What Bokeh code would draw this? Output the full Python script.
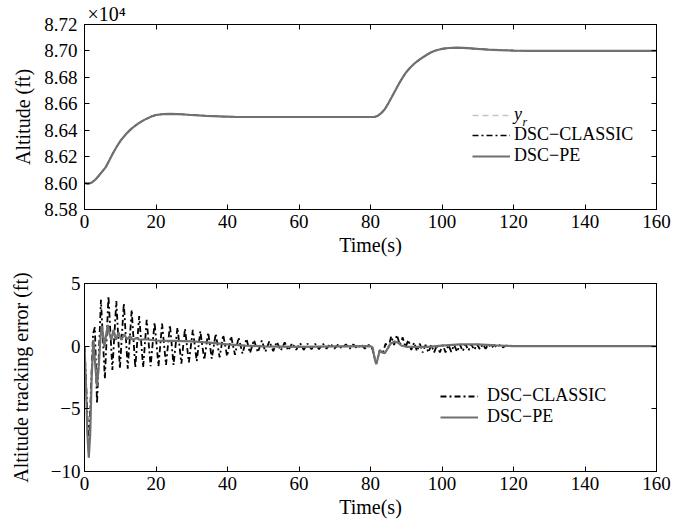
import numpy as np
from bokeh.plotting import figure
from bokeh.models import (Range1d, FixedTicker, LinearAxis, Legend, LegendItem,
                          Label, CustomJSTickFormatter)
from bokeh.layouts import column
from bokeh.embed import file_html
from bokeh.resources import INLINE

FONT = "Liberation Serif"

# ---------------- data ----------------
x_ticks = [0, 20, 40, 60, 80, 100, 120, 140, 160]
alt_ticks = [85800, 86000, 86200, 86400, 86600, 86800, 87000, 87200]
err_ticks = [-10, -5, 0, 5]
err_tick_labels = ["\u221210", "\u22125", "0", "5"]

# altitude (ft)
alt_t = [0, 1, 2, 3, 4, 5, 6, 7, 8, 9, 10, 11, 12, 13, 14, 15, 16, 17, 18, 19, 20,
         22, 24, 26, 28, 30, 34, 38, 42, 46, 50, 60, 70, 80, 81, 82, 83, 84, 85, 86,
         87, 88, 89, 90, 91, 92, 93, 94, 95, 96, 97, 98, 99, 100, 102, 104, 106,
         108, 110, 113, 116, 120, 125, 130, 140, 150, 160]
alt_yr = [86000, 85997, 86004, 86025, 86055, 86088, 86122, 86175, 86228, 86274,
          86316, 86350, 86381, 86407, 86430, 86450, 86467, 86482, 86495, 86506,
          86514, 86521, 86523, 86522, 86519, 86515, 86509, 86504, 86501, 86500,
          86500, 86500, 86500, 86500, 86500, 86508, 86528, 86558, 86603, 86653,
          86703, 86753, 86798, 86838, 86870, 86897, 86919, 86939, 86957, 86974,
          86989, 87000, 87008, 87015, 87022, 87025, 87023, 87019, 87015, 87010,
          87006, 87003, 87001, 87000, 87000, 87000, 87000]
alt_classic = [86000, 85995, 86003, 86025, 86056, 86089, 86123, 86176, 86229, 86275,
               86317, 86351, 86382, 86408, 86430, 86450, 86467, 86482, 86495, 86507,
               86515, 86522, 86524, 86522, 86519, 86515, 86509, 86504, 86501, 86500,
               86500, 86500, 86500, 86500, 86499, 86509, 86529, 86559, 86604, 86654,
               86704, 86754, 86799, 86839, 86871, 86898, 86920, 86940, 86958, 86975,
               86990, 87001, 87009, 87016, 87022, 87025, 87023, 87019, 87015, 87010,
               87006, 87003, 87001, 87000, 87000, 87000, 87000]
alt_pe = [86000, 85996, 86003, 86025, 86055, 86089, 86123, 86175, 86228, 86275,
          86317, 86351, 86382, 86408, 86430, 86450, 86467, 86482, 86495, 86507,
          86515, 86522, 86524, 86522, 86519, 86515, 86509, 86504, 86501, 86500,
          86500, 86500, 86500, 86500, 86500, 86508, 86529, 86559, 86604, 86654,
          86704, 86754, 86799, 86839, 86871, 86898, 86920, 86940, 86958, 86975,
          86990, 87001, 87009, 87016, 87022, 87025, 87023, 87019, 87015, 87010,
          87006, 87003, 87001, 87000, 87000, 87000, 87000]

# tracking error (ft), DSC-CLASSIC (read at its extrema)
err_classic_t = [0, 0.6, 1.2, 1.8, 2.4, 2.9, 3.5,
                 4.6, 5.7, 6.7, 7.8, 8.9, 9.9, 11.0, 12.1, 13.2, 14.2, 15.3, 16.4,
                 17.4, 18.5, 19.6, 20.7, 21.7, 22.8, 23.9, 24.9, 26.0, 27.1, 28.1,
                 29.2, 30.3, 31.4, 32.4, 33.5, 34.6, 35.6, 36.7, 37.8, 38.8, 39.9,
                 41.0, 42.1, 43.1, 44.2, 45.3, 46.3, 47.4, 48.5, 49.6, 50.6, 51.7,
                 52.8, 53.8, 54.9, 56.0, 57.0, 58.1, 59.2, 60.3, 61.3, 62.4, 63.5,
                 64.5, 65.6, 66.7, 67.7, 68.8, 69.9, 71.0, 72.0, 73.1, 74.2, 75.2,
                 76.3, 77.4, 78.4, 79.5,
                 80.5, 81.6, 82.6, 83.4, 84.2, 85.0, 85.8, 86.6, 87.4, 88.2, 89.0,
                 89.8, 90.6, 91.4, 92.2, 93.0, 93.8, 94.6, 95.4, 96.2, 97.0, 97.8,
                 98.6, 99.4, 100.2, 101.0, 101.8, 102.6, 103.4, 104.2, 105.0, 105.8,
                 106.6, 107.4, 108.2, 109.0, 109.8, 110.6, 111.4, 112.2, 113.0,
                 113.8, 114.6, 115.4, 116.2, 117.0, 118.0, 120.0, 160.0]
err_classic = [0, -4.0, -8.4, -3.5, 1.0, 1.5, -4.6,
               3.7, -2.6, 4.0, -1.9, 3.6, -1.8, 3.4, -1.8, 2.9, -1.7, 2.4, -1.7,
               2.1, -1.6, 1.9, -1.6, 1.8, -1.5, 1.7, -1.5, 1.5, -1.4, 1.4,
               -1.3, 1.3, -1.2, 1.2, -1.1, 1.1, -1.0, 1.0, -0.9, 0.9, -0.8,
               0.8, -0.7, 0.7, -0.6, 0.6, -0.55, 0.5, -0.5, 0.45, -0.45, 0.4,
               -0.4, 0.35, -0.35, 0.3, -0.35, 0.25, -0.3, 0.25, -0.3, 0.2, -0.25,
               0.2, -0.25, 0.2, -0.2, 0.2, -0.2, 0.15, -0.2, 0.15, -0.2, 0.15,
               -0.2, 0.15, -0.2, 0.1,
               -0.2, -1.4, -0.3, -0.6, 0.2, -0.1, 0.8, 0.1, 0.9, 0.1, 0.7,
               -0.1, 0.5, -0.3, 0.3, -0.4, 0.2, -0.5, 0.1, -0.5, 0.1, -0.5,
               0.1, -0.5, 0.1, -0.5, 0.1, -0.45, 0.1, -0.45, 0.15, -0.4,
               0.15, -0.35, 0.15, -0.3, 0.15, -0.25, 0.15, -0.2, 0.15,
               -0.15, 0.1, -0.1, 0.1, -0.1, 0.05, 0.0, 0.0]

# tracking error (ft), DSC-PE
err_pe_t = [0, 0.4, 0.8, 1.2, 1.6, 2.0, 2.5, 3.0, 3.5, 4.0, 4.5, 4.9, 5.3, 5.6, 6.0,
            6.5, 7.0, 7.5, 8.1, 8.8, 9.5, 10.3, 11.1, 11.9, 12.7, 13.5, 14.5, 15.5,
            17, 20, 25, 30, 35, 40, 45, 50, 60, 70, 80, 80.6, 81.1, 81.6, 82.1, 82.6,
            83.2, 84.0, 84.8, 85.6, 86.6, 87.6, 88.6, 90, 93, 96, 100, 105, 110, 115,
            120, 130, 160]
err_pe = [0, -3.0, -7.0, -8.9, -7.0, -2.5, 0.5, -1.5, -3.2, -1.5, 0.8, 1.6, 0.6, -0.1,
          0.8, 1.7, 1.0, 0.5, 1.3, 0.5, 1.1, 0.5, 0.95, 0.55, 0.8, 0.5, 0.65, 0.5,
          0.55, 0.45, 0.42, 0.38, 0.28, 0.15, 0.05, -0.02, -0.05, -0.02, 0.0, -0.1,
          -0.9, -1.45, -0.9, -0.35, -0.5, -0.55, -0.2, 0.2, 0.35, 0.3, 0.05, -0.05,
          -0.05, -0.05, 0.05, 0.15, 0.15, 0.07, 0.0, 0.0, 0.0]

# ---------------- styling helpers ----------------
TICK_FS = "19px"
LABEL_FS = "20px"
LEG_FS = "18px"


def style_axis(ax, ticker, show_labels=True):
    ax.ticker = ticker
    ax.axis_line_color = "black"
    ax.major_tick_line_color = "black"
    ax.major_tick_in = 5
    ax.major_tick_out = 0
    ax.minor_tick_in = 0
    ax.minor_tick_out = 0
    ax.major_label_text_font = FONT
    ax.major_label_text_color = "black"
    ax.major_label_text_font_size = TICK_FS
    ax.axis_label_text_font = FONT
    ax.axis_label_text_font_style = "normal"
    ax.axis_label_text_font_size = LABEL_FS
    ax.axis_label_text_color = "black"
    if not show_labels:
        ax.formatter = CustomJSTickFormatter(code="return '';")
        ax.major_label_standoff = 0


def make_fig(height, btop, bbottom, y0, y1, yticks):
    p = figure(width=672, height=height, x_range=Range1d(0, 160),
               y_range=Range1d(y0, y1), output_backend="svg",
               toolbar_location=None, min_border_left=84, min_border_right=16,
               min_border_top=btop, min_border_bottom=bbottom)
    p.grid.visible = False
    p.outline_line_color = "black"
    p.background_fill_color = "white"
    p.border_fill_color = "white"
    style_axis(p.xaxis[0], FixedTicker(ticks=x_ticks))
    style_axis(p.yaxis[0], FixedTicker(ticks=yticks))
    p.xaxis[0].axis_label = "Time(s)"
    p.xaxis[0].major_label_standoff = 5
    p.xaxis[0].axis_label_standoff = 3
    p.yaxis[0].major_label_standoff = 7
    p.yaxis[0].axis_label_standoff = 7
    top = LinearAxis()
    style_axis(top, FixedTicker(ticks=x_ticks), show_labels=False)
    p.add_layout(top, "above")
    right = LinearAxis()
    style_axis(right, FixedTicker(ticks=yticks), show_labels=False)
    p.add_layout(right, "right")
    return p


def make_legend(items, x, y, standoff, spacing, style="normal"):
    return Legend(items=items, location=(x, y), orientation="vertical",
                  label_text_font=FONT, label_text_font_size=LEG_FS,
                  label_text_font_style=style,
                  label_text_color="black", glyph_width=38, glyph_height=16,
                  label_height=16, label_standoff=standoff, spacing=spacing,
                  padding=0, margin=0, border_line_alpha=0, background_fill_alpha=0)


GRAY = "#707070"
DASHDOT = "6 3 2 3"

# ---------------- top: altitude ----------------
p1 = make_fig(260, 21, 51, 85800, 87200, alt_ticks)
p1.yaxis[0].axis_label = "Altitude (ft)"
p1.yaxis[0].formatter = CustomJSTickFormatter(code="return (tick/10000).toFixed(2);")
p1.xaxis[0].major_label_standoff = 7
p1.xaxis[0].axis_label_standoff = 4
p1.title.text = "\u00d710\u2074"
p1.title.align = "left"
p1.title.offset = 3
p1.title.standoff = 0
p1.title.text_font = FONT
p1.title.text_font_size = "20px"
p1.title.text_font_style = "normal"
p1.title.text_color = "black"
p1.title.text_line_height = 0.9

r_yr = p1.line(alt_t, alt_yr, line_color="#c4c4c4", line_width=1.6, line_dash="6 4")
r_c1 = p1.line(alt_t, alt_classic, line_color="black", line_width=1.4, line_dash=DASHDOT)
r_p1 = p1.line(alt_t, alt_pe, line_color=GRAY, line_width=2.2)

leg1a = make_legend([LegendItem(label="y", renderers=[r_yr])], 388, 84, 4, -5,
                    style="italic")
leg1b = make_legend([LegendItem(label="DSC\u2212CLASSIC", renderers=[r_c1]),
                     LegendItem(label="DSC\u2212PE", renderers=[r_p1])], 388, 43, 4, -5)
p1.add_layout(leg1a)
p1.add_layout(leg1b)
p1.add_layout(Label(x=438, y=88, x_units="screen", y_units="screen", text="r",
                    text_font=FONT, text_font_style="italic", text_font_size="12px",
                    text_baseline="alphabetic", text_color="black"))

# ---------------- bottom: tracking error ----------------
p2 = make_fig(262, 23, 51, -10, 5, err_ticks)
p2.yaxis[0].axis_label = "Altitude tracking error (ft)"
p2.yaxis[0].major_label_overrides = {t: s for t, s in zip(err_ticks, err_tick_labels)}
p2.yaxis[0].major_label_standoff = 4
p2.yaxis[0].axis_label_standoff = 16

r_c2 = p2.line(err_classic_t, err_classic, line_color="black", line_width=1.8,
               line_dash=DASHDOT)
r_p2 = p2.line(err_pe_t, err_pe, line_color=GRAY, line_width=2.2)

leg2 = make_legend([LegendItem(label="DSC\u2212CLASSIC", renderers=[r_c2]),
                    LegendItem(label="DSC\u2212PE", renderers=[r_p2])], 356, 44, 9, -4)
p2.add_layout(leg2)

layout = column(p1, p2)
open("out.html", "w").write(file_html(layout, INLINE))
